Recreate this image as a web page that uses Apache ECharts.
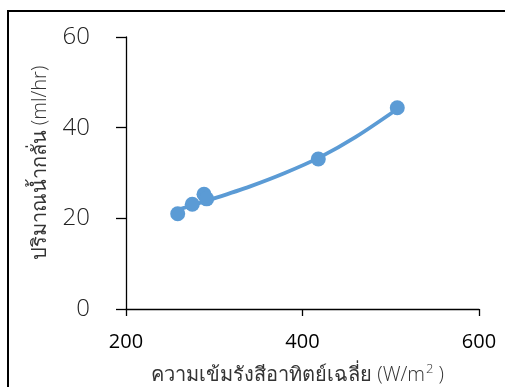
<!DOCTYPE html>
<html><head><meta charset="utf-8">
<script src="https://cdn.jsdelivr.net/npm/echarts@6/dist/echarts.min.js"></script>
<style>html,body{margin:0;padding:0;background:#fff;overflow:hidden;width:505px;height:387px}#c{width:505px;height:387px;position:absolute;left:0;top:0}
#frame{position:absolute;left:7px;top:10px;width:700px;height:600px;border-left:2px solid #000;border-top:2px solid #000;pointer-events:none;z-index:5}</style>
</head><body><div id="c"></div><div id="frame"></div>
<script>
// Measured points
const radiation = [258.6, 275.1, 288.4, 291.4, 417.9, 507.4];
const distillate = [21.0, 23.1, 25.3, 24.3, 33.1, 44.4];
// Trendline
const trendX = [257.5, 300, 340, 380, 420, 460, 506.7];
const trendY = [21.8, 24.4, 27.0, 30.0, 33.5, 37.9, 44.0];
const xTicks = [200, 400, 600];
const yTicks = [0, 20, 40, 60];
const xTitle = 'ความเข้มรังสีอาทิตย์เฉลี่ย (W/m';
const yTitle = 'ปริมาณน้ำกลั่น (ml/hr)';

const FONT = '"Open Sans", "Noto Sans", sans-serif';
const chart = echarts.init(document.getElementById('c'), null, {renderer: 'canvas'});
chart.setOption({
  animation: false,
  backgroundColor: '#fff',
  grid: {left: 126, top: 37, right: 26, bottom: 78, containLabel: false, outerBoundsMode: 'none'},
  xAxis: {
    type: 'value', min: xTicks[0], max: xTicks[xTicks.length - 1], interval: 200,
    axisLine: {show: true, onZero: false, lineStyle: {color: '#000', width: 1.3}},
    axisTick: {show: true, inside: false, length: 7, lineStyle: {color: '#000', width: 1.3}},
    axisLabel: {color: '#000', fontSize: 20, fontFamily: FONT, margin: 23},
    splitLine: {show: false},
    name: '{a|' + xTitle + '}{s|2}{a| )}',
    nameLocation: 'middle', nameGap: 54,
    nameTextStyle: {
      padding: [0, 10, 0, 0],
      rich: {
        a: {fontSize: 20, fontFamily: FONT, color: '#333', fontWeight: 300},
        s: {fontSize: 13, fontFamily: FONT, color: '#333', padding: [0, 0, 12, 1], fontWeight: 300}
      }
    }
  },
  yAxis: {
    type: 'value', min: yTicks[0], max: yTicks[yTicks.length - 1], interval: 20,
    axisLine: {show: true, lineStyle: {color: '#000', width: 1.3}},
    axisTick: {show: true, inside: false, length: 10, lineStyle: {color: '#000', width: 1.3}},
    axisLabel: {color: '#222', fontSize: 24, fontFamily: FONT, fontWeight: 300, margin: 36, padding: [0, 0, 5, 0]},
    splitLine: {show: false}
  },
  graphic: [
    {type: 'text', x: 40, y: 163, rotation: Math.PI / 2, style: {text: yTitle, font: '300 20px ' + FONT, fill: '#333', align: 'center', verticalAlign: 'middle'}}
  ],
  series: [
    {
      type: 'line', data: trendX.map((x, i) => [x, trendY[i]]), smooth: 0.3, showSymbol: false,
      lineStyle: {color: '#5B9BD5', width: 3.8}, z: 2
    },
    {
      type: 'scatter', data: radiation.map((x, i) => [x, distillate[i]]), symbolSize: 15,
      itemStyle: {color: '#5B9BD5', opacity: 1}, z: 3
    }
  ]
});
</script></body></html>
